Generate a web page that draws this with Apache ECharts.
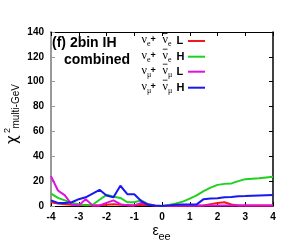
<!DOCTYPE html>
<html><head><meta charset="utf-8">
<script src="https://cdn.jsdelivr.net/npm/echarts@6/dist/echarts.min.js"></script>
<style>html,body{margin:0;padding:0;background:#fff}#c{width:292px;height:250px}</style>
</head><body><div id="c"></div>
<script>
const epsilon = [-4,-3.75,-3.5,-3.25,-3,-2.75,-2.5,-2.25,-2,-1.75,-1.5,-1.25,-1,-0.75,-0.5,-0.25,0,0.25,0.5,0.75,1,1.25,1.5,1.75,2,2.25,2.5,2.75,3,3.25,3.5,3.75,4];
const nueL = [3,2,1.5,1,1,0.8,0.5,0.5,1,1.5,1,0.8,0.5,1,0.8,0.3,0,0.2,0.3,0.3,0.2,0.2,0.5,1.5,2.5,3,1.2,0.5,0.5,0.4,0.4,0.4,0.4];
const nueH = [10,6.5,4.5,2.5,1.5,0.5,1,5,9,7.5,6.5,3,3,4.5,1.5,0.5,0,0.8,2,3.5,6,8.5,12,14.8,17,17.8,18.2,20,21.6,22,22.3,23,23.6];
const numuL = [24,12.5,8.5,1,0.5,5.5,0.5,0.5,2.5,4.5,1.5,0.5,0.5,2.5,1.5,0.5,0,0.3,0.5,0.5,0.5,0.5,0.5,0.5,0.5,0.5,0.5,0.5,0.5,0.5,0.5,0.5,0.5];
const numuH = [4.5,2.5,2.5,3,5.5,7,10,13,8.5,7,16.3,9.5,9.5,4,1,0.3,0,0.5,1,1.2,1.2,1.3,5.5,6,6.3,7,7.3,7.8,8,8.3,8.5,8.7,8.8];
const xTicks = [-4,-3,-2,-1,0,1,2,3,4];
const yTicks = [0,20,40,60,80,100,120,140];
const seriesNames = ['nue L','nue H','numu L','numu H'];
const seriesColors = ['#f01818','#1fd01f','#e010e0','#1818f0'];
const seriesData = [nueL, nueH, numuL, numuH];

const chart = echarts.init(document.getElementById('c'), null, {renderer:'canvas'});
const lab = {fontFamily:'Liberation Sans, Arial, sans-serif', fontWeight:'bold', fontSize:10, color:'#000'};

const legendRows = [
  {y:41, sub:'e', end:'L'},
  {y:56.7, sub:'e', end:'H'},
  {y:71.7, sub:'μ', end:'L'},
  {y:87.7, sub:'μ', end:'H'}
];
const graphic = [];
legendRows.forEach((r,i)=>{
  const serif = 'Liberation Serif, Times New Roman, serif';
  graphic.push({type:'text', x:141.5, y:r.y-1, style:{text:'ν', font:'12px '+serif, textVerticalAlign:'middle', fill:'#000'}});
  graphic.push({type:'text', x:147, y:r.y+3, style:{text:r.sub, font:'8px '+serif, textVerticalAlign:'middle', fill:'#000'}});
  graphic.push({type:'text', x:150.5, y:r.y-1, style:{text:'+', font:'bold 9px Liberation Sans, sans-serif', textVerticalAlign:'middle', fill:'#000'}});
  graphic.push({type:'text', x:162.5, y:r.y-1, style:{text:'ν', font:'12px '+serif, textVerticalAlign:'middle', fill:'#000'}});
  graphic.push({type:'line', shape:{x1:162.8, y1:r.y-7.5, x2:167.5, y2:r.y-7.5}, style:{stroke:'#000', lineWidth:0.8}});
  graphic.push({type:'text', x:168, y:r.y+3, style:{text:r.sub, font:'8px '+serif, textVerticalAlign:'middle', fill:'#000'}});
  graphic.push({type:'text', x:176.5, y:r.y, style:{text:r.end, font:'bold 11px Liberation Sans, sans-serif', textVerticalAlign:'middle', fill:'#000'}});
  graphic.push({type:'line', shape:{x1:188, y1:r.y, x2:205, y2:r.y}, style:{stroke:seriesColors[i], lineWidth:2}});
});
// panel title
graphic.push({type:'text', x:52, y:43.5, style:{text:'(f) 2bin IH', font:'bold 14px Liberation Sans, Arial, sans-serif', textVerticalAlign:'middle', fill:'#000'}});
graphic.push({type:'text', x:64, y:60, style:{text:'combined', font:'bold 14px Liberation Sans, Arial, sans-serif', textVerticalAlign:'middle', fill:'#000'}});
// x axis name
graphic.push({type:'text', x:152.5, y:231.5, style:{text:'ε', font:'14px Liberation Sans, sans-serif', textVerticalAlign:'middle', fill:'#000'}});
graphic.push({type:'text', x:158.5, y:236.5, style:{text:'ee', font:'11px Liberation Sans, sans-serif', textVerticalAlign:'middle', fill:'#000'}});
// y axis name (rotated)
graphic.push({type:'text', x:13, y:144, rotation:Math.PI/2, style:{text:'χ', font:'15px DejaVu Sans, sans-serif', textVerticalAlign:'middle', fill:'#000'}});
graphic.push({type:'text', x:7.5, y:133, rotation:Math.PI/2, style:{text:'2', font:'9px Liberation Sans, sans-serif', textVerticalAlign:'middle', fill:'#000'}});
graphic.push({type:'text', x:16.5, y:128.5, rotation:Math.PI/2, style:{text:'multi-GeV', font:'10px Liberation Sans, sans-serif', textVerticalAlign:'middle', fill:'#000'}});

const option = {
  animation:false,
  backgroundColor:'#fff',
  grid:{left:51, top:32, right:19, bottom:44, containLabel:false},
  xAxis:[
    {type:'value', min:-4, max:4, interval:1, position:'bottom',
     axisLine:{show:true, onZero:false, lineStyle:{color:'#000', width:1}},
     axisTick:{show:true, inside:true, length:4, lineStyle:{color:'#000'}},
     axisLabel:Object.assign({margin:6, formatter:v=>xTicks.includes(v)?String(v):''}, lab),
     splitLine:{show:false}},
    {type:'value', min:-4, max:4, interval:1, position:'top',
     axisLine:{show:true, onZero:false, lineStyle:{color:'#000', width:1}},
     axisTick:{show:true, inside:true, length:4, lineStyle:{color:'#000'}},
     axisLabel:{show:false}, splitLine:{show:false}}
  ],
  yAxis:[
    {type:'value', min:0, max:140, interval:20, position:'left',
     axisLine:{show:true, onZero:false, lineStyle:{color:'#999', width:2}},
     axisTick:{show:true, inside:true, length:4, lineStyle:{color:'#999'}},
     axisLabel:Object.assign({margin:7, formatter:v=>yTicks.includes(v)?String(v):''}, lab),
     splitLine:{show:false}},
    {type:'value', min:0, max:140, interval:20, position:'right',
     axisLine:{show:true, onZero:false, lineStyle:{color:'#000', width:1.5}},
     axisTick:{show:true, inside:true, length:4, lineStyle:{color:'#000'}},
     axisLabel:{show:false}, splitLine:{show:false}}
  ],
  series: seriesData.map((d,i)=>({
    name:seriesNames[i], type:'line', xAxisIndex:0, yAxisIndex:0,
    data:epsilon.map((x,j)=>[x,d[j]]),
    showSymbol:false, symbol:'none', smooth:false,
    lineStyle:{color:seriesColors[i], width:2},
    itemStyle:{color:seriesColors[i]}, z:2+i
  })),
  graphic:graphic
};
chart.setOption(option);
</script></body></html>
